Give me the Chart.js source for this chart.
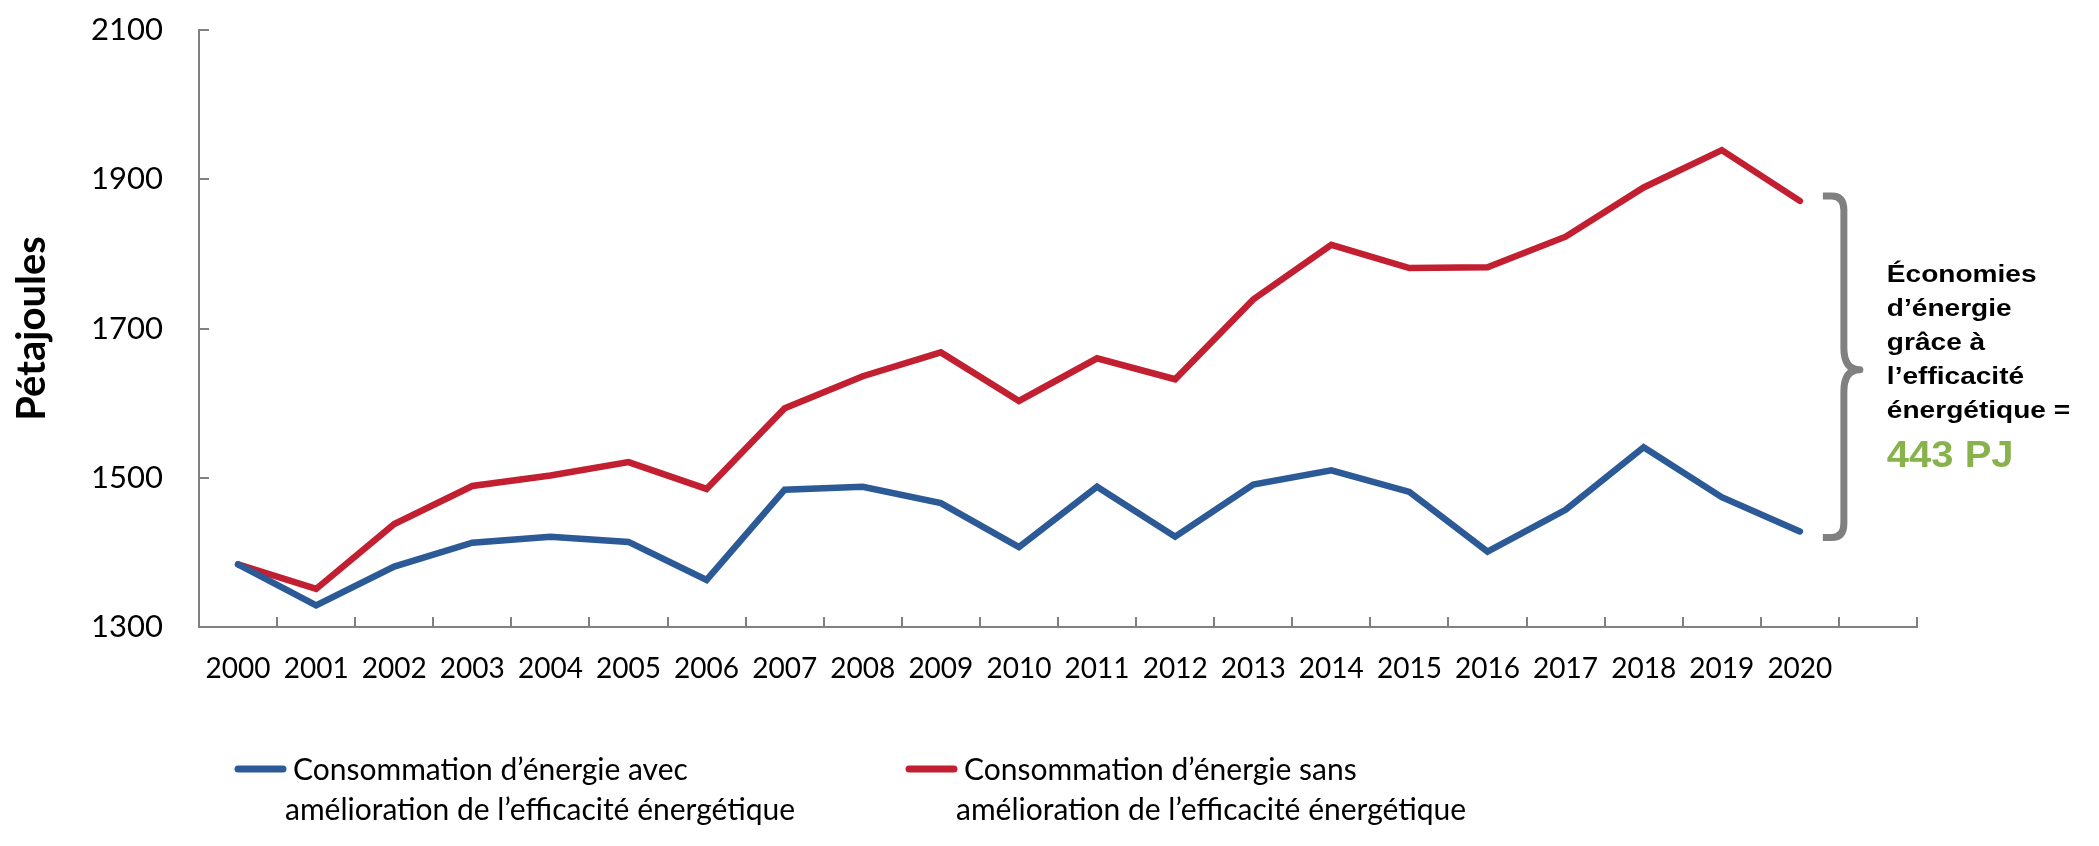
<!DOCTYPE html>
<html>
<head>
<meta charset="utf-8">
<script src="https://cdn.jsdelivr.net/npm/chart.js@4.4.1/dist/chart.umd.min.js"></script>
<style>
  html, body { margin: 0; padding: 0; background: #fff; }
</style>
</head>
<body>
<canvas id="chart" width="2099" height="846"></canvas>
<script>
// Data
const years = ['2000', '2001', '2002', '2003', '2004', '2005', '2006', '2007', '2008', '2009', '2010',
               '2011', '2012', '2013', '2014', '2015', '2016', '2017', '2018', '2019', '2020'];
const withEfficiency = [1384, 1329, 1381, 1413, 1421, 1414, 1363, 1484, 1488, 1466, 1407,
                        1488, 1421, 1491, 1510, 1481, 1401, 1457, 1541, 1474, 1428];
const withoutEfficiency = [1384, 1351, 1438, 1489, 1503, 1521, 1485, 1593, 1636, 1668, 1603,
                           1660, 1632, 1739, 1812, 1781, 1782, 1823, 1889, 1939, 1871];
const yTicks = [1300, 1500, 1700, 1900, 2100];
const withLabel = ['Consommation d’énergie avec', 'amélioration de l’efficacité énergétique'];
const withoutLabel = ['Consommation d’énergie sans', 'amélioration de l’efficacité énergétique'];
const savingsText = ['Économies', 'd’énergie', 'grâce à', 'l’efficacité', 'énergétique ='];
const savingsValue = '443 PJ';

const BLUE = '#2C5A97';
const RED = '#C21F31';
const GREY = '#808080';
const GREEN = '#87B24C';

// small tick marks drawn inside the axes
const innerTicks = {
    id: 'innerTicks',
    beforeDatasetsDraw(chart) {
        const { ctx, chartArea: a, scales: { x, y } } = chart;
        ctx.save();
        ctx.strokeStyle = GREY;
        ctx.lineWidth = 2;
        ctx.beginPath();
        y.ticks.forEach(t => {
            const py = Math.round(y.getPixelForValue(t.value));
            ctx.moveTo(a.left, py);
            ctx.lineTo(a.left + 10, py);
        });
        for (let i = 0; i <= x.ticks.length; i++) {
            const px = Math.round(x.getPixelForValue(i - 0.5));
            ctx.moveTo(px, a.bottom - 10);
            ctx.lineTo(px, a.bottom);
        }
        ctx.stroke();
        ctx.restore();
    }
};

// two-line legend below the axis
const twoLineLegend = {
    id: 'twoLineLegend',
    afterDraw(chart) {
        const ctx = chart.ctx;
        const items = [
            { x: 238, label: withLabel, color: chart.data.datasets[0].borderColor },
            { x: 909, label: withoutLabel, color: chart.data.datasets[1].borderColor }
        ];
        ctx.save();
        ctx.font = '30px Lato';
        ctx.fillStyle = '#000';
        ctx.textBaseline = 'alphabetic';
        items.forEach(it => {
            ctx.strokeStyle = it.color;
            ctx.lineWidth = 7;
            ctx.lineCap = 'round';
            ctx.beginPath();
            ctx.moveTo(it.x, 769);
            ctx.lineTo(it.x + 45, 769);
            ctx.stroke();
            ctx.fillText(it.label[0], it.x + 55, 780);
            ctx.fillText(it.label[1], it.x + 47, 820);
        });
        ctx.restore();
    }
};

// brace + savings note on the right
const savingsNote = {
    id: 'savingsNote',
    afterDraw(chart) {
        const { ctx, scales: { x, y } } = chart;
        const last = years.length - 1;
        const xEnd = x.getPixelForValue(last);
        const yTop = y.getPixelForValue(withoutEfficiency[last]) - 5;
        const yBot = y.getPixelForValue(withEfficiency[last]) + 6;
        const yMid = (yTop + yBot) / 2 + 3;
        const x0 = xEnd + 23, xs = xEnd + 44, x1 = xEnd + 60;

        ctx.save();
        ctx.strokeStyle = GREY;
        ctx.lineWidth = 7;
        ctx.lineJoin = 'round';
        ctx.beginPath();
        ctx.moveTo(x0, yTop);
        ctx.lineTo(xs - 12, yTop);
        ctx.quadraticCurveTo(xs, yTop, xs, yTop + 14);
        ctx.lineTo(xs, yMid - 22);
        ctx.quadraticCurveTo(xs, yMid, x1, yMid);
        ctx.quadraticCurveTo(xs, yMid, xs, yMid + 22);
        ctx.lineTo(xs, yBot - 14);
        ctx.quadraticCurveTo(xs, yBot, xs - 12, yBot);
        ctx.lineTo(x0, yBot);
        ctx.stroke();

        const tx = xEnd + 87;
        ctx.fillStyle = '#000';
        ctx.font = 'bold 23px "Liberation Sans", Arial, sans-serif';
        savingsText.forEach((line, i) => {
            ctx.save();
            ctx.translate(tx, yMid - 88 + i * 34);
            ctx.scale(1.22, 1);
            ctx.fillText(line, 0, 0);
            ctx.restore();
        });
        ctx.fillStyle = GREEN;
        ctx.font = 'bold 37px "Liberation Sans", Arial, sans-serif';
        ctx.save();
        ctx.translate(tx, yMid + 97);
        ctx.scale(1.08, 1);
        ctx.fillText(savingsValue, 0, 0);
        ctx.restore();
        ctx.restore();
    }
};

const lineStyle = {
    borderWidth: 6.5,
    pointRadius: 0,
    tension: 0,
    borderJoinStyle: 'miter',
    borderCapStyle: 'round'
};

new Chart(document.getElementById('chart'), {
    type: 'line',
    data: {
        labels: years.concat(['']),
        datasets: [
            Object.assign({
                label: withLabel.join(' '),
                data: withEfficiency,
                borderColor: BLUE,
                backgroundColor: BLUE
            }, lineStyle),
            Object.assign({
                label: withoutLabel.join(' '),
                data: withoutEfficiency,
                borderColor: RED,
                backgroundColor: RED
            }, lineStyle)
        ]
    },
    options: {
        responsive: false,
        devicePixelRatio: 1,
        animation: false,
        layout: { padding: { top: 30, right: 182, bottom: 0, left: 0 } },
        plugins: {
            legend: { display: false },
            tooltip: { enabled: false }
        },
        scales: {
            x: {
                type: 'category',
                offset: true,
                grid: { display: false, drawTicks: false },
                border: { display: true, color: GREY, width: 2 },
                ticks: {
                    color: '#000',
                    font: { family: 'Lato', size: 28 },
                    padding: 25,
                    maxRotation: 0,
                    autoSkip: false
                },
                afterFit(s) { s.height = 219; }
            },
            y: {
                min: 1300,
                max: 2100,
                grid: { display: false, drawTicks: false },
                border: { display: true, color: GREY, width: 2 },
                afterBuildTicks(s) { s.ticks = yTicks.map(v => ({ value: v })); },
                ticks: {
                    color: '#000',
                    font: { family: 'Lato', size: 31 },
                    padding: 36,
                    callback: v => String(v)
                },
                title: {
                    display: true,
                    text: 'Pétajoules',
                    color: '#000',
                    font: { family: 'Lato', size: 40, weight: 'bold' },
                    padding: { top: 8, bottom: 0 }
                },
                afterFit(s) {
                    s.width = 199;
                    s.paddingTop = 30;
                }
            }
        }
    },
    plugins: [innerTicks, twoLineLegend, savingsNote]
});
</script>
</body>
</html>
